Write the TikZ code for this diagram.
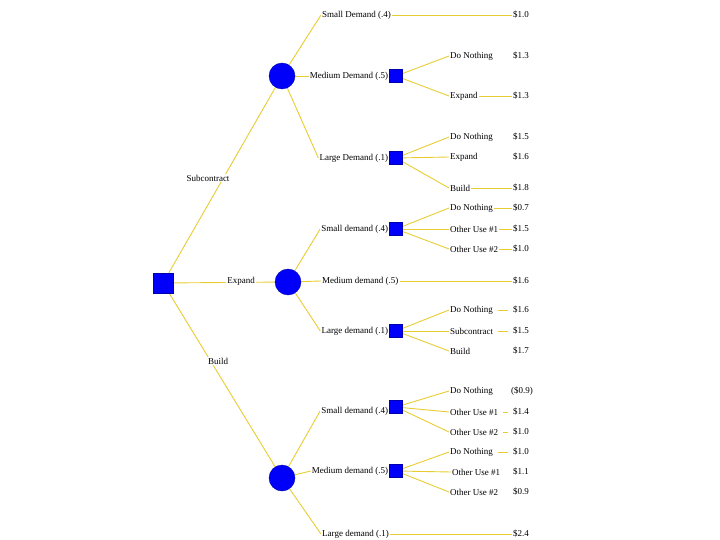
\documentclass[tikz,border=0pt]{standalone}
\usepackage{fontspec}
\setmainfont{Liberation Serif}
\usepackage{tikz}
\usetikzlibrary{shapes,positioning,backgrounds}
\definecolor{branchyellow}{RGB}{232,204,50}
\definecolor{nodeblue}{RGB}{0,0,250}

\begin{document}
\begin{tikzpicture}[x=1pt, y=-1pt,
          decision/.style={rectangle, draw=nodeblue!70!black, fill=nodeblue, minimum size=#1, inner sep=0pt},
          decision/.default=13pt,
          chance/.style={circle, draw=nodeblue!70!black, fill=nodeblue, minimum size=26pt, inner sep=0pt},
          lbl/.style={font=\fontsize{9}{10}\selectfont, inner sep=1pt, fill=white},
          branch/.style={draw=branchyellow, line width=0.9pt},
          stub/.style={branch, shorten <=4pt, shorten >=4pt}]

          \useasboundingbox (0,0) rectangle (720,540);

          % decision and chance nodes
          \node[decision=20pt] (root) at (163,283) {};
          \node[chance] (c1) at (282,76) {};
          \node[chance] (c2) at (288,282) {};
          \node[chance] (c3) at (282,478) {};
          \node[decision] (d11) at (396,76) {};
          \node[decision] (d12) at (396,158) {};
          \node[decision] (d21) at (396,229) {};
          \node[decision] (d22) at (396,331) {};
          \node[decision] (d31) at (396,407) {};
          \node[decision] (d32) at (396,471) {};

          % first choice
          \node[lbl] (sub) at (208,178) {Subcontract};
          \node[lbl] (exp) at (241,281) {Expand};
          \node[lbl] (bld) at (218,361) {Build};

          % demand branches
          \node[lbl, anchor=west] (s1) at (321,15) {Small Demand (.4)};
          \node[lbl, left=0pt of d11] (m1) {Medium Demand (.5)};
          \node[lbl, left=0pt of d12] (l1) {Large Demand (.1)};
          \node[lbl, left=0pt of d21] (s2) {Small demand (.4)};
          \node[lbl, anchor=west] (m2) at (321,281) {Medium demand (.5)};
          \node[lbl, left=0pt of d22] (l2) {Large demand (.1)};
          \node[lbl, left=0pt of d31, yshift=-4pt] (s3) {Small demand (.4)};
          \node[lbl, left=0pt of d32] (m3) {Medium demand (.5)};
          \node[lbl, anchor=west] (l3) at (321,534) {Large demand (.1)};

          % second choices
          \node[lbl, anchor=west] (a1) at (449,56) {Do Nothing};
          \node[lbl, anchor=west] (a2) at (449,96) {Expand};
          \node[lbl, anchor=west] (b1) at (449,137) {Do Nothing};
          \node[lbl, anchor=west] (b2) at (449,157) {Expand};
          \node[lbl, anchor=west] (b3) at (449,188) {Build};
          \node[lbl, anchor=west] (e1) at (449,208) {Do Nothing};
          \node[lbl, anchor=west] (e2) at (449,229) {Other Use \#1};
          \node[lbl, anchor=west] (e3) at (449,249) {Other Use \#2};
          \node[lbl, anchor=west] (f1) at (449,310) {Do Nothing};
          \node[lbl, anchor=west] (f2) at (449,331) {Subcontract};
          \node[lbl, anchor=west] (f3) at (449,351) {Build};
          \node[lbl, anchor=west] (g1) at (449,391) {Do Nothing};
          \node[lbl, anchor=west] (g2) at (449,412) {Other Use \#1};
          \node[lbl, anchor=west] (g3) at (449,432) {Other Use \#2};
          \node[lbl, anchor=west] (h1) at (449,452) {Do Nothing};
          \node[lbl, anchor=west] (h2) at (451,472) {Other Use \#1};
          \node[lbl, anchor=west] (h3) at (449,492) {Other Use \#2};

          % payoffs
          \node[lbl, anchor=west] (ps1) at (512,15) {\$1.0};
          \node[lbl, anchor=west] (pa1) at (512,56) {\$1.3};
          \node[lbl, anchor=west] (pa2) at (512,96) {\$1.3};
          \node[lbl, anchor=west] (pb1) at (512,137) {\$1.5};
          \node[lbl, anchor=west] (pb2) at (512,157) {\$1.6};
          \node[lbl, anchor=west] (pb3) at (512,188) {\$1.8};
          \node[lbl, anchor=west] (pe1) at (512,208) {\$0.7};
          \node[lbl, anchor=west] (pe2) at (512,229) {\$1.5};
          \node[lbl, anchor=west] (pe3) at (512,249) {\$1.0};
          \node[lbl, anchor=west] (pm2) at (512,281) {\$1.6};
          \node[lbl, anchor=west] (pf1) at (512,310) {\$1.6};
          \node[lbl, anchor=west] (pf2) at (512,331) {\$1.5};
          \node[lbl, anchor=west] (pf3) at (512,351) {\$1.7};
          \node[lbl, anchor=west] (pg1) at (510,391) {(\$0.9)};
          \node[lbl, anchor=west] (pg2) at (512,412) {\$1.4};
          \node[lbl, anchor=west] (pg3) at (512,432) {\$1.0};
          \node[lbl, anchor=west] (ph1) at (512,452) {\$1.0};
          \node[lbl, anchor=west] (ph2) at (512,472) {\$1.1};
          \node[lbl, anchor=west] (ph3) at (512,492) {\$0.9};
          \node[lbl, anchor=west] (pl3) at (512,534) {\$2.4};

          \begin{pgfonlayer}{background}
          \draw[branch] (root) -- (c1);
          \draw[branch] (root) -- (c2);
          \draw[branch] (root) -- (c3);

          \draw[branch] (c1) -- (s1.west);
          \draw[branch] (c1) -- (m1.west);
          \draw[branch] (c1) -- (l1.west);
          \draw[branch] (c2) -- (s2.west);
          \draw[branch] (c2) -- (m2.west);
          \draw[branch] (c2) -- (l2.west);
          \draw[branch] (c3) -- (s3.west);
          \draw[branch] (c3) -- (m3.west);
          \draw[branch] (c3) -- (l3.west);

          \draw[branch] (d11) -- (a1.west);
          \draw[branch] (d11) -- (a2.west);
          \draw[branch] (d12) -- (b1.west);
          \draw[branch] (d12) -- (b2.west);
          \draw[branch] (d12) -- (b3.west);
          \draw[branch] (d21) -- (e1.west);
          \draw[branch] (d21) -- (e2.west);
          \draw[branch] (d21) -- (e3.west);
          \draw[branch] (d22) -- (f1.west);
          \draw[branch] (d22) -- (f2.west);
          \draw[branch] (d22) -- (f3.west);
          \draw[branch] (d31) -- (g1.west);
          \draw[branch] (d31) -- (g2.west);
          \draw[branch] (d31) -- (g3.west);
          \draw[branch] (d32) -- (h1.west);
          \draw[branch] (d32) -- (h2.west);
          \draw[branch] (d32) -- (h3.west);

          % lines on to the payoffs
          \draw[branch] (s1) -- (ps1);
          \draw[branch] (m2) -- (pm2);
          \draw[branch] (l3) -- (pl3);
          \draw[branch] (a2) -- (pa2);
          \draw[branch] (b3) -- (pb3);
          \draw[branch] (e1) -- (pe1);
          \draw[branch] (e2) -- (pe2);
          \draw[branch] (e3) -- (pe3);
          \draw[stub] (f1) -- (pf1);
          \draw[stub] (f2) -- (pf2);
          \draw[stub] (g2) -- (pg2);
          \draw[stub] (g3) -- (pg3);
          \draw[stub] (h1) -- (ph1);
          \end{pgfonlayer}
        \end{tikzpicture}
\end{document}
